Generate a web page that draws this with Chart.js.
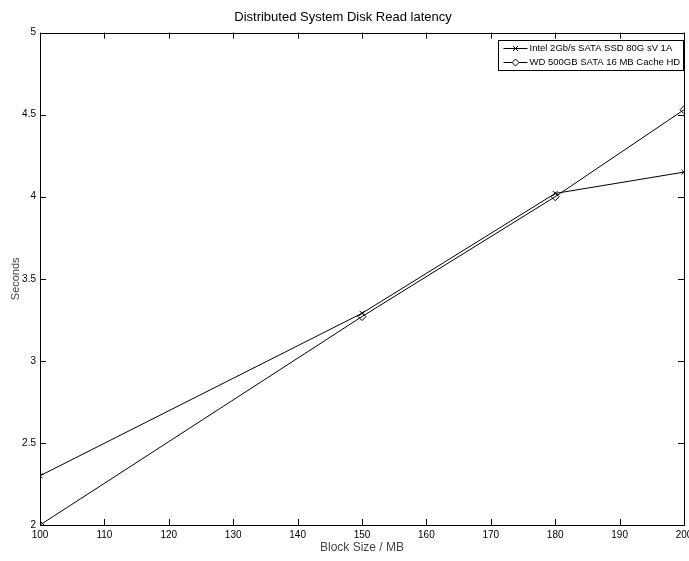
<!DOCTYPE html>
<html>
<head>
<meta charset="utf-8">
<script src="https://cdn.jsdelivr.net/npm/chart.js@4"></script>
<style>
  html, body { margin: 0; padding: 0; background: #fff; }
  #wrap { width: 689px; height: 561px; }
</style>
</head>
<body>
<div id="wrap"><canvas id="c" width="689" height="561"></canvas></div>
<script>
const blockSizes = [100, 150, 180, 200];
const intelSeconds = [2.30, 3.29, 4.02, 4.15];
const wdSeconds = [2.00, 3.27, 4.00, 4.53];
const seriesNames = ['Intel 2Gb/s SATA SSD 80G sV 1A', 'WD 500GB SATA 16 MB Cache HD'];
const xTicks = [100, 110, 120, 130, 140, 150, 160, 170, 180, 190, 200];
const yTicks = [2, 2.5, 3, 3.5, 4, 4.5, 5];

const FONT = '"Liberation Sans Narrow", "Arial Narrow", "Liberation Sans", Arial, sans-serif';

function toPoints(xs, ys) {
    return xs.map((x, i) => ({ x: x, y: ys[i] }));
}

// matlab-ish box with inward ticks + legend inside the axes
const boxPlugin = {
    id: 'boxPlugin',
    afterDraw(chart) {
        const ctx = chart.ctx;
        const a = chart.chartArea;
        const xs = chart.scales.x, ys = chart.scales.y;
        const tl = 6;
        ctx.save();
        ctx.strokeStyle = '#000';
        ctx.lineWidth = 1;
        ctx.strokeRect(Math.round(a.left) + 0.5, Math.round(a.top) + 0.5,
            Math.round(a.right - a.left), Math.round(a.bottom - a.top));
        ctx.beginPath();
        xTicks.forEach(v => {
            const px = Math.round(xs.getPixelForValue(v)) + 0.5;
            ctx.moveTo(px, a.bottom); ctx.lineTo(px, a.bottom - tl);
            ctx.moveTo(px, a.top); ctx.lineTo(px, a.top + tl);
        });
        yTicks.forEach(v => {
            const py = Math.round(ys.getPixelForValue(v)) + 0.5;
            ctx.moveTo(a.left, py); ctx.lineTo(a.left + tl, py);
            ctx.moveTo(a.right, py); ctx.lineTo(a.right - tl, py);
        });
        ctx.stroke();

        // legend
        ctx.font = '9.5px ' + FONT;
        const tw = Math.max(...chart.data.datasets.map(d => ctx.measureText(d.label).width));
        const lw = Math.round(tw + 34), lh = 30;
        const lx = Math.round(a.right - lw - 1) + 0.5, ly = Math.round(a.top + 7) + 0.5;
        ctx.fillStyle = '#fff';
        ctx.fillRect(lx, ly, lw, lh);
        ctx.strokeRect(lx, ly, lw, lh);
        ctx.textBaseline = 'middle';
        ctx.textAlign = 'left';
        chart.data.datasets.forEach((ds, i) => {
            const cy = ly + 8 + i * 14;
            ctx.beginPath();
            ctx.moveTo(lx + 5, cy); ctx.lineTo(lx + 29, cy);
            ctx.stroke();
            ctx.fillStyle = '#fff';
            Chart.helpers.drawPoint(ctx, {
                pointStyle: ds.pointStyle, radius: 3.5, borderWidth: 1
            }, lx + 17, cy);
            ctx.fillStyle = '#000';
            ctx.fillText(ds.label, lx + 31, cy);
        });
        ctx.restore();
    }
};

new Chart(document.getElementById('c'), {
    type: 'line',
    data: {
        datasets: [
            {
                label: seriesNames[0],
                data: toPoints(blockSizes, intelSeconds),
                borderColor: '#000',
                backgroundColor: 'rgba(0,0,0,0)',
                borderWidth: 1,
                pointStyle: 'crossRot',
                pointRadius: 3.5,
                pointBorderColor: '#000',
                pointBorderWidth: 1
            },
            {
                label: seriesNames[1],
                data: toPoints(blockSizes, wdSeconds),
                borderColor: '#000',
                backgroundColor: 'rgba(0,0,0,0)',
                borderWidth: 1,
                pointStyle: 'rectRot',
                pointRadius: 4,
                pointBorderColor: '#000',
                pointBackgroundColor: 'rgba(0,0,0,0)',
                pointBorderWidth: 1
            }
        ]
    },
    options: {
        responsive: false,
        animation: false,
        events: [],
        layout: { padding: { left: 0, right: 3, top: 0, bottom: 0 } },
        plugins: {
            legend: { display: false },
            tooltip: { enabled: false },
            title: {
                display: true,
                text: 'Distributed System Disk Read latency',
                color: '#000',
                font: { family: FONT, size: 13, weight: 'normal' },
                padding: { top: 10, bottom: 7 }
            }
        },
        scales: {
            x: {
                type: 'linear',
                min: 100,
                max: 200,
                afterBuildTicks(scale) { scale.ticks = xTicks.map(v => ({ value: v })); },
                afterFit(scale) {
                    scale.height = 36;
                    scale.paddingLeft = 0;
                    scale.paddingRight = 0;
                },
                grid: { display: false, drawTicks: false },
                border: { display: false },
                ticks: {
                    color: '#000',
                    padding: 4,
                    maxRotation: 0,
                    font: { family: FONT, size: 10 }
                },
                title: {
                    display: true,
                    text: 'Block Size / MB',
                    color: '#444',
                    font: { family: FONT, size: 12 },
                    padding: { top: 0, bottom: 6 }
                }
            },
            y: {
                type: 'linear',
                min: 2,
                max: 5,
                afterBuildTicks(scale) { scale.ticks = yTicks.map(v => ({ value: v })); },
                afterFit(scale) {
                    scale.width = 40;
                    scale.paddingTop = 0;
                    scale.paddingBottom = 0;
                },
                grid: { display: false, drawTicks: false },
                border: { display: false },
                ticks: {
                    color: '#000',
                    padding: 4,
                    font: { family: FONT, size: 10 },
                    callback: v => String(v)
                },
                title: {
                    display: true,
                    text: 'Seconds',
                    color: '#444',
                    font: { family: FONT, size: 11 },
                    padding: { top: 9, bottom: 0 }
                }
            }
        }
    },
    plugins: [boxPlugin]
});
</script>
</body>
</html>
